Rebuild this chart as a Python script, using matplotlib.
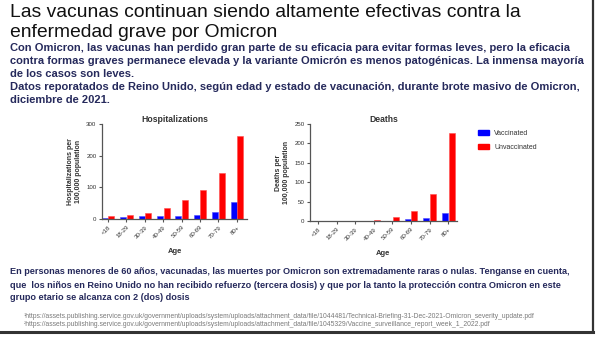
import numpy as np
import matplotlib.pyplot as plt
from matplotlib.lines import Line2D
from matplotlib.patches import Patch

plt.rcParams['font.family'] = ['Liberation Sans', 'DejaVu Sans']

# age groups and rates per 100,000 population
ages = ['<18', '18-29', '30-39', '40-49', '50-59', '60-69', '70-79', '80+']
hosp_vacc = [3, 6, 8, 8, 10, 13, 22, 55]
hosp_unvacc = [8, 13, 19, 34, 59, 91, 145, 262]
death_vacc = [0, 0, 0, 0, 1, 5, 8, 21]
death_unvacc = [0, 0, 0, 3, 10, 26, 69, 228]

title = ['Las vacunas continuan siendo altamente efectivas contra la',
         'enfermedad grave por Omicron']
intro = ['Con Omicron, las vacunas han perdido gran parte de su eficacia para evitar formas leves, pero la eficacia',
         'contra formas graves permanece elevada y la variante Omicrón es menos patogénicas. La inmensa mayoría',
         'de los casos son leves.',
         'Datos reporatados de Reino Unido, según edad y estado de vacunación, durante brote masivo de Omicron,',
         'diciembre de 2021.']
outro = ['En personas menores de 60 años, vacunadas, las muertes por Omicron son extremadamente raras o nulas. Tenganse en cuenta,',
         'que  los niños en Reino Unido no han recibido refuerzo (tercera dosis) y que por la tanto la protección contra Omicron en este',
         'grupo etario se alcanza con 2 (dos) dosis']
links = ['¹https://assets.publishing.service.gov.uk/government/uploads/system/uploads/attachment_data/file/1044481/Technical-Briefing-31-Dec-2021-Omicron_severity_update.pdf',
         '²https://assets.publishing.service.gov.uk/government/uploads/system/uploads/attachment_data/file/1045329/Vaccine_surveillance_report_week_1_2022.pdf']

W, H = 596, 338
fig = plt.figure(figsize=(W / 100, H / 100), dpi=100)
navy = '#262a5c'


def txt(x, y, s, **kw):
    return fig.text(x / W, 1 - y / H, s, **kw)


for i, line in enumerate(title):
    txt(10, 17 + i * 20, line, fontsize=13.9, color='#111111', va='baseline')
for i, line in enumerate(intro):
    txt(10, 51 + i * 13, line, fontsize=8.0, color=navy, fontweight='bold', va='baseline')
for i, line in enumerate(outro):
    txt(10, 272 + i * 13, line, fontsize=6.6, color=navy, fontweight='bold', va='center')
for i, line in enumerate(links):
    txt(24, 317 + i * 7, line, fontsize=4.9, color='#7a7a7a', va='center')

x = np.arange(len(ages))
w = 0.33


def panel(rect, vacc, unvacc, name, ylab, ymax, step, xlim):
    ax = fig.add_axes(rect)
    ax.bar(x - 0.18, vacc, w, color='#0000ff', edgecolor='#4d4dff', linewidth=0.4)
    ax.bar(x + 0.18, unvacc, w, color='#ff0000', edgecolor='#ff4d4d', linewidth=0.4)
    ax.set_ylim(0, ymax)
    ax.set_xlim(*xlim)
    ax.set_yticks(np.arange(0, ymax + 1, step))
    ax.set_xticks(x)
    ax.set_xticklabels(ages, rotation=45, ha='right', rotation_mode='anchor')
    for s in ['top', 'right']:
        ax.spines[s].set_visible(False)
    for s in ['left', 'bottom']:
        ax.spines[s].set_color('#555555')
        ax.spines[s].set_linewidth(0.9)
    ax.tick_params(colors='#555555', labelcolor='#333333', labelsize=4.4, length=2.5, width=0.8, pad=1.5)
    ax.set_title(name, fontsize=6.2, fontweight='bold', color='#333333', pad=0.5)
    ax.set_ylabel(ylab, fontsize=5, fontweight='bold', color='#333333', labelpad=3)
    ax.set_xlabel('Age', fontsize=5.5, fontweight='bold', color='#333333', labelpad=6)
    return ax


panel([102 / W, 1 - 219 / H, 145 / W, 95 / H], hosp_vacc, hosp_unvacc, 'Hospitalizations',
      'Hospitalizations per\n100,000 population', 300, 100, (-0.33, 7.55))
panel([310 / W, 1 - 221 / H, 147 / W, 97 / H], death_vacc, death_unvacc, 'Deaths',
      'Deaths per\n100,000 population', 250, 50, (-0.43, 7.47))

handles = [Patch(color='#0000ff'), Patch(color='#ff0000')]
fig.legend(handles, ['Vaccinated', 'Unvaccinated'], loc='upper left', bbox_to_anchor=(472 / W, 1 - 124 / H),
           frameon=False, fontsize=5, handlelength=1.6, handleheight=0.7, labelcolor='#333333',
           labelspacing=1.0, handletextpad=0.7)

# page border on right and bottom
fig.add_artist(Line2D([593 / W, 593 / W], [1 - 332 / H, 1], transform=fig.transFigure, color='#333333', lw=1.6))
fig.add_artist(Line2D([0, 593 / W], [1 - 332 / H, 1 - 332 / H], transform=fig.transFigure, color='#333333', lw=2.2))

fig.savefig('out.png', dpi=100)
